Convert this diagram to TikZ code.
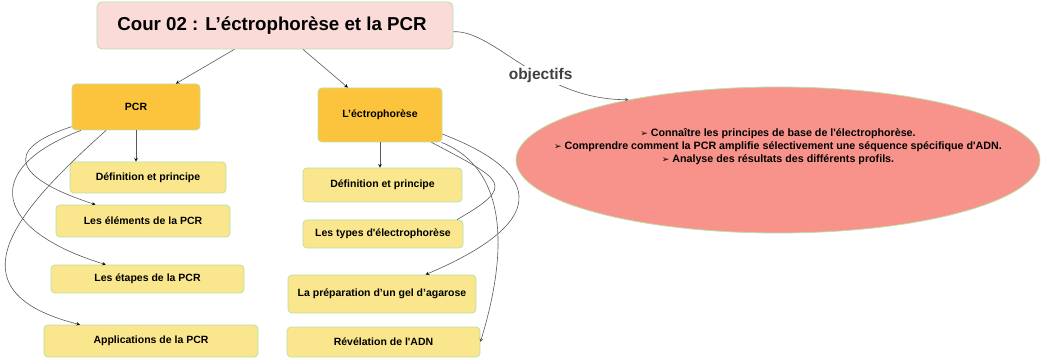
\documentclass[tikz,border=0pt]{standalone}
\usepackage{fontspec}
\setmainfont{Liberation Sans}
\newfontfamily\puces{DejaVu Sans}
\usetikzlibrary{shapes.geometric, arrows}
\definecolor{titrerose}{HTML}{FADBD8}
\definecolor{bordvert}{HTML}{B9E0A5}
\definecolor{orangefort}{HTML}{FCC43C}
\definecolor{jaunepale}{HTML}{FAE68C}
\definecolor{rougebut}{HTML}{F8938B}
\definecolor{trait}{HTML}{595959}
\tikzset{
    ->, % every connector gets a head
    >=stealth, % small filled heads
    titre/.style={rectangle, rounded corners=5pt, draw=bordvert, fill=titrerose, line width=0.8pt,
        minimum width=356pt, minimum height=47pt, font=\bfseries\fontsize{18.7}{22}\selectfont},
    theme/.style={rectangle, rounded corners=4pt, draw=bordvert, fill=orangefort, line width=0.8pt,
        font=\bfseries\fontsize{10.5}{12}\selectfont}, % the two main topics
    soustheme/.style={theme, fill=jaunepale}, % the chapters below them
    but/.style={ellipse, draw=bordvert, fill=rougebut, line width=0.8pt, align=center, inner sep=-60pt,
        font=\bfseries\fontsize{10.7}{13}\selectfont},
    lien/.style={draw=trait, line width=0.6pt},
}
\newcommand{\puce}{{\puces\fontsize{9}{10}\selectfont ➢}\ }
\newcommand{\apo}{\textquotesingle}

\begin{document}
\begin{tikzpicture}[x=1pt, y=1pt]
    \useasboundingbox (0,0) rectangle (1042,-358);
    \node[titre] (cour) at (275,-25.5) {\hspace*{-6pt}Cour 02 : L’éctrophorèse et la PCR};
    \node[theme, minimum width=128pt, minimum height=46pt] (pcr) at (136,-107) {PCR};
    \node[theme, minimum width=124pt, minimum height=54pt] (elec) at (380,-115) {L’éctrophorèse};
    \node[soustheme, minimum width=156pt, minimum height=31pt] (pdef) at (148,-177.5) {Définition et principe};
    \node[soustheme, minimum width=174pt, minimum height=32pt] (pelem) at (143,-221) {Les éléments de la PCR};
    \node[soustheme, minimum width=193pt, minimum height=28pt] (petap) at (147.5,-279) {Les étapes de la PCR};
    \node[soustheme, minimum width=214pt, minimum height=32pt] (pappl) at (151,-341) {Applications de la PCR};
    \node[soustheme, minimum width=159pt, minimum height=34pt] (edef) at (382.5,-185) {Définition et principe};
    \node[soustheme, minimum width=160pt, minimum height=28pt] (etypes) at (383,-234) {Les types d\apo{}électrophorèse};
    \node[soustheme, minimum width=188pt, minimum height=38pt] (egel) at (382,-294) {La préparation d’un gel d’agarose};
    \node[soustheme, minimum width=193pt, minimum height=30pt] (erev) at (383.5,-342) {Révélation de l\apo{}ADN};
    \node[but, minimum width=524pt, minimum height=146pt, text depth=29pt] (buts) at (778,-160)
        {\puce Connaître les principes de base de l\apo{}électrophorèse.\\
         \puce Comprendre comment la PCR amplifie sélectivement une séquence spécifique d\apo{}ADN.\\
         \puce Analyse des résultats des différents profils.};
    \draw[lien]
    (cour) edge (pcr)
    (cour) edge (elec)
    (pcr.south) edge (pcr.south |- pdef.north)
    (pcr.197) edge[out=198, in=162, out distance=76pt, in distance=83pt] (pelem.161)
    (pcr.203) edge[out=201, in=163, out distance=110pt, in distance=115pt] (petap.161)
    (pcr.218) edge[out=222, in=166, out distance=103pt, in distance=146pt] (pappl.167)
    (elec.south) edge (elec.south |- edef.north)
    (elec.-28) edge[-, out=-28, in=30, out distance=81pt, in distance=70pt] (etypes.11)
    (elec.-17) edge[out=-21, in=23, out distance=97pt, in distance=147pt] (egel.24)
    (elec.-24) to[out=-22, in=73, out distance=89pt, in distance=54pt] (erev.east);
    \draw[lien] (cour.-2) .. controls (495,-30) and (540,-100) ..
        node[pos=0.6, fill=white, inner sep=2pt, text=black!75, font=\bfseries\fontsize{15.5}{18}\selectfont] (obj) {objectifs} (buts.158);
\end{tikzpicture}
\end{document}
